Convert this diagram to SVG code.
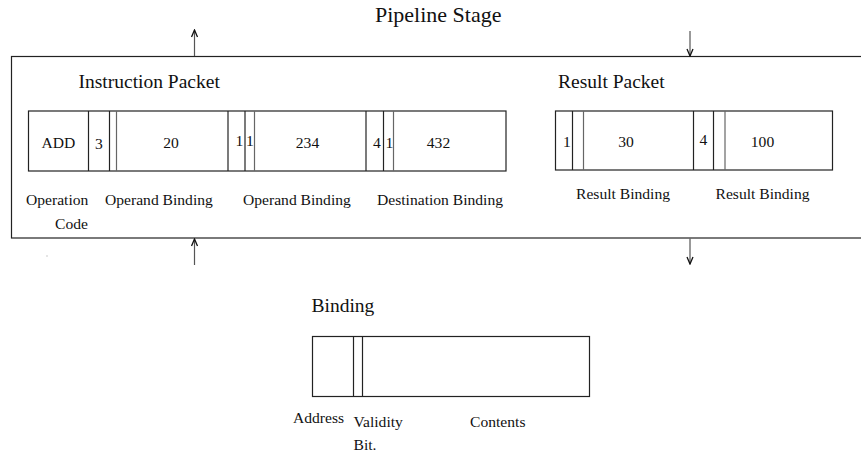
<svg xmlns="http://www.w3.org/2000/svg" width="861" height="454" viewBox="0 0 861 454">
<style>
text{font-family:"Liberation Serif","Times New Roman",serif;fill:#111}
.t{font-size:22px}
.h{font-size:19.5px}
.s{font-size:15.6px}
.c{text-anchor:middle}
.box{fill:none;stroke:#222;stroke-width:1.2}
.div{stroke:#222;stroke-width:1.2}
.dl{stroke:#666;stroke-width:1.2}
.ar{stroke:#555;stroke-width:1.2;fill:none;marker-end:url(#ah)}
</style>
<defs>
<marker id="ah" viewBox="0 0 10 8" refX="9" refY="4" markerWidth="10" markerHeight="8" orient="auto" markerUnits="userSpaceOnUse">
<path d="M2,1 L9,4 L2,7" fill="none" stroke="#111" stroke-width="1.3"/>
</marker>
</defs>
<rect width="861" height="454" fill="#fff"/>
<g id="title"><text class="t" x="375" y="22">Pipeline Stage</text></g>
<g id="pipeline-stage">
<rect class="box" x="11.5" y="56.5" width="880" height="181.5"/>
</g>
<g id="instruction-packet">
<text class="h" x="78.5" y="88">Instruction Packet</text>
<rect class="box" x="28.5" y="111" width="477.5" height="60"/>
<line class="div" x1="88.5" y1="111" x2="88.5" y2="171"/>
<line class="div" x1="109.5" y1="111" x2="109.5" y2="171"/>
<line class="dl" x1="116.5" y1="111" x2="116.5" y2="171"/>
<line class="div" x1="228" y1="111" x2="228" y2="171"/>
<line class="div" x1="245" y1="111" x2="245" y2="171"/>
<line class="dl" x1="254.5" y1="111" x2="254.5" y2="171"/>
<line class="div" x1="366" y1="111" x2="366" y2="171"/>
<line class="div" x1="383.5" y1="111" x2="383.5" y2="171"/>
<line class="dl" x1="393.5" y1="111" x2="393.5" y2="171"/>
<text class="s c" x="58.5" y="148">ADD</text>
<text class="s c" x="99" y="149">3</text>
<text class="s c" x="171" y="148">20</text>
<text class="s c" x="239.5" y="146">1</text>
<text class="s c" x="250" y="146">1</text>
<text class="s c" x="307.5" y="148">234</text>
<text class="s c" x="377" y="148">4</text>
<text class="s c" x="389.5" y="148">1</text>
<text class="s c" x="438.5" y="148">432</text>
<text class="s" x="26" y="205">Operation</text>
<text class="s" x="55" y="229">Code</text>
<text class="s" x="105" y="205">Operand Binding</text>
<text class="s" x="243" y="205">Operand Binding</text>
<text class="s" x="377" y="205">Destination Binding</text>
</g>
<g id="result-packet">
<text class="h" x="558" y="88">Result Packet</text>
<rect class="box" x="555.5" y="111" width="277" height="59"/>
<line class="div" x1="572.5" y1="111" x2="572.5" y2="170"/>
<line class="dl" x1="583.5" y1="111" x2="583.5" y2="170"/>
<line class="div" x1="693.5" y1="111" x2="693.5" y2="170"/>
<line class="div" x1="713.5" y1="111" x2="713.5" y2="170"/>
<line class="dl" x1="725" y1="111" x2="725" y2="170"/>
<text class="s c" x="567" y="147">1</text>
<text class="s c" x="626" y="147">30</text>
<text class="s c" x="703.5" y="145">4</text>
<text class="s c" x="762.5" y="147">100</text>
<text class="s" x="576" y="199">Result Binding</text>
<text class="s" x="715.5" y="199">Result Binding</text>
</g>
<g id="binding">
<text class="h" x="311.5" y="311.5">Binding</text>
<rect class="box" x="312.5" y="336.5" width="277" height="60"/>
<line class="div" x1="353.5" y1="336.5" x2="353.5" y2="396.5"/>
<line class="div" x1="362.5" y1="336.5" x2="362.5" y2="396.5"/>
<text class="s" x="293" y="423">Address</text>
<text class="s" x="353.5" y="427">Validity</text>
<text class="s" x="353.5" y="450">Bit.</text>
<text class="s" x="470" y="427">Contents</text>
</g>
<g id="connectors">
<line class="ar" x1="194.5" y1="56" x2="194.5" y2="30"/>
<line class="ar" x1="690" y1="31" x2="690" y2="56"/>
<line class="ar" x1="194.5" y1="265" x2="194.5" y2="239"/>
<line class="ar" x1="690" y1="238.5" x2="690" y2="264"/>
</g>
<rect x="46.5" y="255.5" width="1" height="1" fill="#999"/>
</svg>
